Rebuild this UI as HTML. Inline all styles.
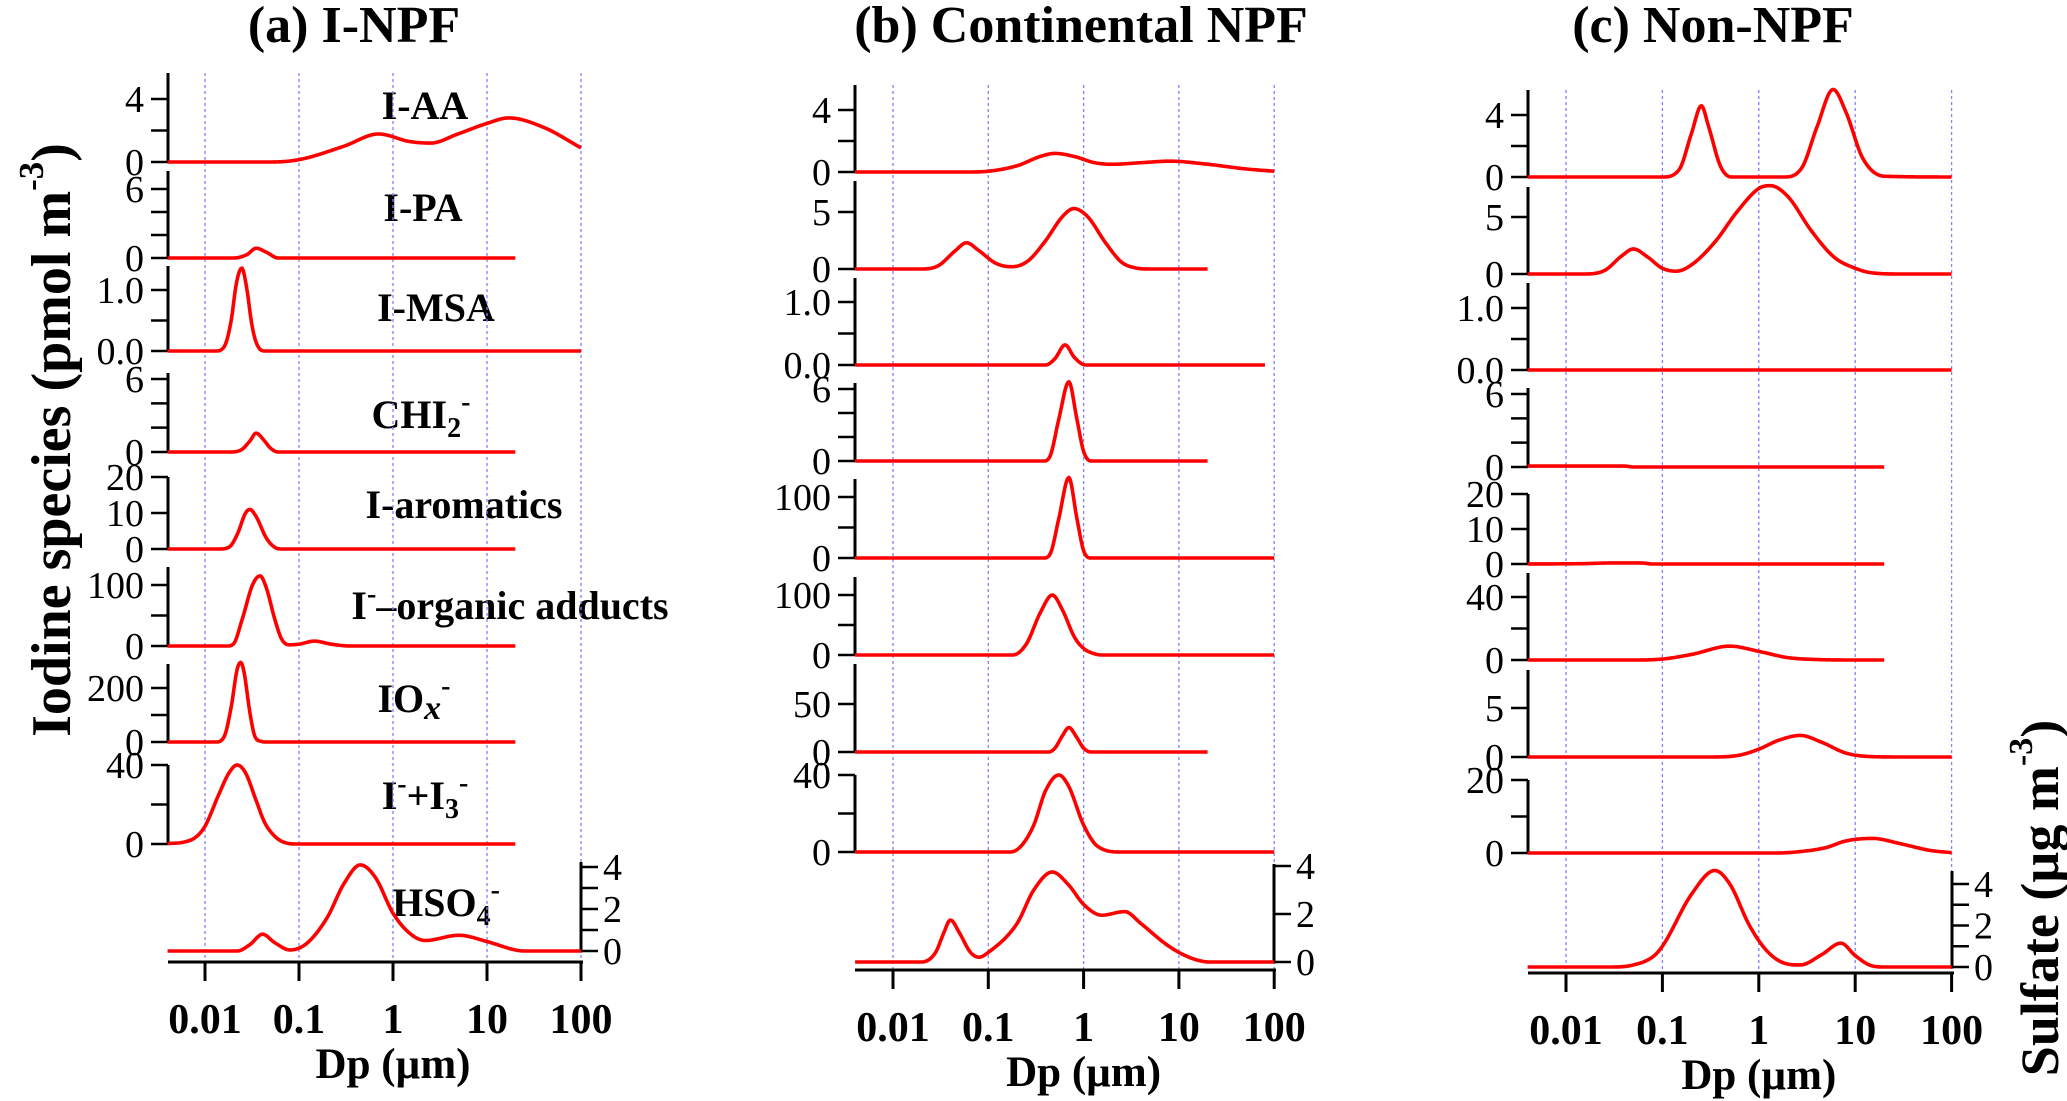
<!DOCTYPE html>
<html><head><meta charset="utf-8"><style>
html,body{margin:0;padding:0;background:#fff;}
svg{display:block;}
</style></head><body>
<svg id="chart" width="2067" height="1101" viewBox="0 0 2067 1101" xmlns="http://www.w3.org/2000/svg" font-family="'Liberation Serif', serif">
<g id="static">
<text x="354" y="42" font-size="52" font-weight="bold" text-anchor="middle">(a) I-NPF</text>
<text x="1081" y="42" font-size="52" font-weight="bold" text-anchor="middle">(b) Continental NPF</text>
<text x="1713" y="42" font-size="52" font-weight="bold" text-anchor="middle">(c) Non-NPF</text>
<text transform="translate(70,440) rotate(-90)" font-size="56" font-weight="bold" text-anchor="middle">Iodine species (pmol m<tspan font-size="35" dy="-27">-3</tspan><tspan dy="27">)</tspan></text>
<text transform="translate(2058,898) rotate(-90)" font-size="54" font-weight="bold" text-anchor="middle">Sulfate (µg m<tspan font-size="34" dy="-26">-3</tspan><tspan dy="26">)</tspan></text>
<g font-size="40" font-weight="bold" text-anchor="middle">
<text x="425" y="119">I-AA</text>
<text x="423" y="221">I-PA</text>
<text x="436" y="321">I-MSA</text>
<text x="421" y="428">CHI<tspan font-size="28" dy="9">2</tspan><tspan font-size="28" dy="-26">-</tspan></text>
<text x="464" y="518">I-aromatics</text>
<text x="510" y="619">I<tspan font-size="28" dy="-16">-</tspan><tspan dy="16">–organic adducts</tspan></text>
<text x="414" y="712">IO<tspan font-style="italic" font-size="34" dy="7">x</tspan><tspan font-size="28" dy="-24">-</tspan></text>
<text x="425" y="809">I<tspan font-size="28" dy="-16">-</tspan><tspan dy="16">+I</tspan><tspan font-size="28" dy="9">3</tspan><tspan font-size="28" dy="-26">-</tspan></text>
<text x="446" y="916">HSO<tspan font-size="28" dy="9">4</tspan><tspan font-size="28" dy="-26">-</tspan></text>
</g>
</g>
<g id="plots"></g>
</svg>
<script>
// ---------- data: [Dp (µm), value] pairs ----------
const aIAA = [[0.004,0],[0.05,0],[0.1,0.15],[0.3,1.0],[0.7,1.78],[1.5,1.3],[2.5,1.2],[5,1.8],[10,2.45],[17,2.8],[40,2.2],[100,0.9]];
const aIPA = [[0.004,0],[0.02,0],[0.028,0.3],[0.035,0.85],[0.045,0.5],[0.06,0],[20,0]];
const aIMSA = [[0.004,0],[0.013,0],[0.016,0.07],[0.019,0.5],[0.0215,1.1],[0.0246,1.36],[0.028,1.0],[0.031,0.5],[0.034,0.2],[0.04,0.01],[0.045,0],[100,0]];
const aCHI2 = [[0.004,0],[0.018,0],[0.024,0.15],[0.03,0.9],[0.035,1.55],[0.042,1.0],[0.05,0.3],[0.06,0],[20,0]];
const aIarom = [[0.004,0],[0.014,0],[0.018,0.5],[0.022,4],[0.027,10],[0.030,11],[0.035,9],[0.045,3],[0.055,0.5],[0.065,0],[20,0]];
const aIorg = [[0.004,0],[0.017,0],[0.02,3],[0.025,45],[0.032,100],[0.0385,115],[0.045,95],[0.055,45],[0.065,12],[0.078,2],[0.1,3],[0.145,8],[0.22,3],[0.35,0],[20,0]];
const aIOx = [[0.004,0],[0.013,0],[0.016,20],[0.019,130],[0.022,270],[0.024,295],[0.026,260],[0.03,110],[0.034,20],[0.04,2],[0.045,0],[20,0]];
const aII3 = [[0.004,0.2],[0.006,1],[0.008,3.5],[0.01,9],[0.014,25],[0.018,36],[0.022,40],[0.027,36],[0.035,22],[0.043,11],[0.055,4],[0.07,0.8],[0.1,0],[20,0]];
const aHSO4 = [[0.004,0],[0.022,0],[0.03,0.3],[0.041,0.8],[0.055,0.4],[0.08,0.05],[0.12,0.35],[0.2,1.6],[0.3,3.2],[0.45,4.1],[0.65,3.5],[1,1.8],[1.5,0.85],[2.2,0.5],[5,0.75],[10,0.45],[20,0.05],[25,0],[100,0]];

const bIAA = [[0.004,0],[0.06,0],[0.1,0.05],[0.2,0.4],[0.35,1.0],[0.5,1.2],[0.8,1.0],[1.3,0.6],[2,0.5],[4,0.6],[8,0.7],[20,0.5],[50,0.2],[100,0.05]];
const bIPA = [[0.004,0],[0.02,0],[0.03,0.3],[0.045,1.6],[0.059,2.3],[0.08,1.6],[0.12,0.5],[0.176,0.2],[0.26,0.7],[0.4,2.5],[0.6,4.6],[0.79,5.3],[1.1,4.6],[1.7,2.3],[2.5,0.6],[3.5,0.1],[5,0],[20,0]];
const bIMSA = [[0.004,0],[0.4,0],[0.5,0.1],[0.64,0.32],[0.8,0.12],[1.05,0],[80,0]];
const bCHI2 = [[0.004,0],[0.38,0],[0.45,0.5],[0.55,3.5],[0.7,6.6],[0.85,3.5],[1.0,0.8],[1.2,0],[20,0]];
const bIarom = [[0.004,0],[0.38,0],[0.45,8],[0.55,65],[0.7,132],[0.85,65],[1.0,12],[1.2,0],[100,0]];
const bIorg = [[0.004,0],[0.18,0],[0.25,18],[0.35,70],[0.47,100],[0.6,75],[0.8,30],[1,11],[1.3,2],[1.6,0],[100,0]];
const bIOx = [[0.004,0],[0.43,0],[0.5,4],[0.6,17],[0.7,25.5],[0.85,15],[1.0,4],[1.2,0],[20,0]];
const bII3 = [[0.004,0],[0.17,0],[0.22,3],[0.3,14],[0.4,32],[0.55,40],[0.7,34],[1.0,14],[1.4,3],[2.5,0],[100,0]];
const bHSO4 = [[0.004,0],[0.02,0],[0.028,0.4],[0.034,1.2],[0.040,1.75],[0.05,1.2],[0.065,0.4],[0.08,0.2],[0.1,0.4],[0.2,1.6],[0.3,3.0],[0.47,3.75],[0.7,3.2],[1.0,2.4],[1.55,1.95],[2.7,2.1],[4,1.6],[7,0.8],[10,0.4],[15,0.1],[21,0],[100,0]];

const cIAA = [[0.004,0],[0.1,0],[0.15,0.5],[0.2,2.8],[0.254,4.6],[0.3,3.3],[0.4,0.7],[0.52,0],[1.8,0],[2.8,0.6],[4,3.2],[5.9,5.65],[8,4.2],[12,1.2],[20,0.05],[100,0]];
const cIPA = [[0.004,0],[0.015,0],[0.025,0.3],[0.038,1.6],[0.05,2.2],[0.07,1.5],[0.1,0.5],[0.14,0.25],[0.2,0.8],[0.35,2.8],[0.6,5.5],[1.0,7.5],[1.32,7.75],[2,6.8],[3.5,3.8],[6,1.5],[10,0.5],[15,0.1],[30,0],[100,0]];
const cIMSA = [[0.004,0],[100,0]];
const cCHI2 = [[0.004,0.08],[0.04,0.08],[0.05,0],[20,0]];
const cIarom = [[0.004,0],[0.015,0.1],[0.03,0.3],[0.06,0.3],[0.08,0],[20,0]];
const cIorg = [[0.004,0],[0.05,0],[0.1,0.6],[0.2,3.5],[0.5,8.8],[1,5.5],[2,1.5],[4,0.3],[10,0],[20,0]];
const cIOx = [[0.004,0],[0.3,0],[0.6,0.15],[1,0.8],[1.6,1.7],[2.7,2.2],[4.5,1.5],[8,0.4],[14,0.05],[30,0],[100,0]];
const cII3 = [[0.004,0],[1.5,0],[2.5,0.3],[5,1.5],[8,3.3],[15,4],[30,2.5],[60,0.7],[100,0.1]];
const cHSO4 = [[0.004,0],[0.03,0],[0.05,0.1],[0.08,0.5],[0.1,1.0],[0.2,3.5],[0.35,4.65],[0.5,4.0],[0.8,2.0],[1.2,0.8],[1.8,0.2],[2.7,0.1],[4.5,0.6],[7.1,1.15],[10,0.55],[14,0.1],[20,0],[100,0]];

const xTickValues = [0.01, 0.1, 1, 10, 100];
const xTickLabels = ["0.01", "0.1", "1", "10", "100"];
const seriesNames = ["i-aa","i-pa","i-msa","chi2","i-aromatics","i-organic-adducts","iox","i-i3","hso4"];

// ---------- layout ----------
const NS = "http://www.w3.org/2000/svg";
const panels = [
 {id:"a", x0:168, xdec0:205, dec:94, xr:581, axisY:962, gridMax:2, series:[aIAA,aIPA,aIMSA,aCHI2,aIarom,aIorg,aIOx,aII3,aHSO4],
  subs:[
   {zero:162, refV:4, refY:99, top:73, ticks:[0,2,4], labels:{"0":"0","4":"4"}},
   {zero:258, refV:6, refY:189, top:171, ticks:[0,2,4,6], labels:{"0":"0","6":"6"}},
   {zero:351, refV:1, refY:290, top:266, ticks:[0,0.5,1], labels:{"0":"0.0","1":"1.0"}},
   {zero:452, refV:6, refY:379, top:373, ticks:[0,2,4,6], labels:{"0":"0","6":"6"}},
   {zero:549, refV:20, refY:477, top:477, ticks:[0,10,20], labels:{"0":"0","10":"10","20":"20"}},
   {zero:646, refV:100, refY:585, top:567, ticks:[0,50,100], labels:{"0":"0","100":"100"}},
   {zero:742, refV:200, refY:688, top:664, ticks:[0,100,200], labels:{"0":"0","200":"200"}},
   {zero:844, refV:40, refY:765, top:765, ticks:[0,20,40], labels:{"0":"0","40":"40"}},
   {zero:951, refV:4, refY:867, top:862, ticks:[0,1,2,3,4], labels:{"0":"0","2":"2","4":"4"}, right:true}
  ]},
 {id:"b", x0:855, xdec0:893, dec:95.3, xr:1274, axisY:970, gridMax:2, series:[bIAA,bIPA,bIMSA,bCHI2,bIarom,bIorg,bIOx,bII3,bHSO4],
  subs:[
   {zero:172, refV:4, refY:110, top:85, ticks:[0,2,4], labels:{"0":"0","4":"4"}},
   {zero:269, refV:5, refY:212, top:181, ticks:[0,5], labels:{"0":"0","5":"5"}},
   {zero:365, refV:1, refY:302, top:278, ticks:[0,0.5,1], labels:{"0":"0.0","1":"1.0"}},
   {zero:461, refV:6, refY:389, top:383, ticks:[0,2,4,6], labels:{"0":"0","6":"6"}},
   {zero:558, refV:100, refY:497, top:479, ticks:[0,50,100], labels:{"0":"0","100":"100"}},
   {zero:655, refV:100, refY:595, top:577, ticks:[0,50,100], labels:{"0":"0","100":"100"}},
   {zero:752, refV:50, refY:704, top:664, ticks:[0,50], labels:{"0":"0","50":"50"}},
   {zero:852, refV:40, refY:775, top:775, ticks:[0,20,40], labels:{"0":"0","40":"40"}},
   {zero:962, refV:4, refY:866, top:864, ticks:[0,2,4], labels:{"0":"0","2":"2","4":"4"}, right:true}
  ]},
 {id:"c", x0:1528, xdec0:1566, dec:96.4, xr:1952, axisY:973, gridMax:2, series:[cIAA,cIPA,cIMSA,cCHI2,cIarom,cIorg,cIOx,cII3,cHSO4],
  subs:[
   {zero:177, refV:4, refY:115, top:90, ticks:[0,2,4], labels:{"0":"0","4":"4"}},
   {zero:274, refV:5, refY:217, top:187, ticks:[0,5], labels:{"0":"0","5":"5"}},
   {zero:370, refV:1, refY:308, top:283, ticks:[0,0.5,1], labels:{"0":"0.0","1":"1.0"}},
   {zero:467, refV:6, refY:394, top:388, ticks:[0,2,4,6], labels:{"0":"0","6":"6"}},
   {zero:564, refV:20, refY:494, top:494, ticks:[0,10,20], labels:{"0":"0","10":"10","20":"20"}},
   {zero:660, refV:40, refY:597, top:573, ticks:[0,20,40], labels:{"0":"0","40":"40"}},
   {zero:757, refV:5, refY:708, top:670, ticks:[0,5], labels:{"0":"0","5":"5"}},
   {zero:853, refV:20, refY:780, top:780, ticks:[0,10,20], labels:{"0":"0","20":"20"}},
   {zero:967, refV:4, refY:884, top:871, ticks:[0,1,2,3,4], labels:{"0":"0","2":"2","4":"4"}, right:true}
  ]}
];

function mk(tag, attrs, parent){
  const e = document.createElementNS(NS, tag);
  for (const k in attrs) e.setAttribute(k, attrs[k]);
  parent.appendChild(e);
  return e;
}
function monotone(xs, ys){
  const n = xs.length, d = [], m = new Array(n);
  for (let i=0;i<n-1;i++) d.push((ys[i+1]-ys[i])/(xs[i+1]-xs[i]));
  m[0]=d[0]; m[n-1]=d[n-2];
  for (let i=1;i<n-1;i++) m[i] = (d[i-1]*d[i]<=0)?0:(d[i-1]+d[i])/2;
  for (let i=0;i<n-1;i++){
    if (d[i]===0){m[i]=0;m[i+1]=0;continue;}
    const a=m[i]/d[i], b=m[i+1]/d[i], s=a*a+b*b;
    if (s>9){const t=3/Math.sqrt(s); m[i]=t*a*d[i]; m[i+1]=t*b*d[i];}
  }
  return function(x){
    let i=0; while(i<n-2 && x>xs[i+1]) i++;
    const h=xs[i+1]-xs[i], t=(x-xs[i])/h, t2=t*t, t3=t2*t;
    return (2*t3-3*t2+1)*ys[i]+(t3-2*t2+t)*h*m[i]+(-2*t3+3*t2)*ys[i+1]+(t3-t2)*h*m[i+1];
  };
}

const root = document.getElementById("plots");
panels.forEach(function(p){
  const g = mk("g", {}, root);
  
  
  const xs = function(dp){ return p.xdec0 + (Math.log10(dp)+2)*p.dec; };
  const gridTop = p.subs[0].top;
  for (let k=-2; k<=p.gridMax; k++){
    const gx = xs(Math.pow(10,k));
    const gl = mk("line", {x1:gx, x2:gx, y1:gridTop, y2:p.axisY, stroke:"#8080ff", "stroke-width":1.3, "stroke-dasharray":"3,3"}, g);
    
    
  }
  const xa = mk("line", {x1:p.x0, x2:p.xr+2, y1:p.axisY, y2:p.axisY, stroke:"#000", "stroke-width":3}, g);
  
  
  xTickValues.forEach(function(v, i){
    const tx = xs(v);
    const tl = mk("line", {x1:tx, x2:tx, y1:p.axisY, y2:p.axisY+19, stroke:"#000", "stroke-width":3}, g);
    
    
    const tt = mk("text", {x:tx, y:p.axisY+71, "font-size":42, "font-weight":"bold", "text-anchor":"middle"}, g);
    tt.textContent = xTickLabels[i];
    
    
  });
  const xt = mk("text", {x:xs(1), y:p.axisY+116, "font-size":43, "font-weight":"bold", "text-anchor":"middle"}, g);
  xt.textContent = "Dp (µm)";
  
  

  p.subs.forEach(function(s, si){
    const data = p.series[si];
    const ppu = (s.zero - s.refY)/s.refV;
    const ys = function(v){ return s.zero - v*ppu; };
    const ax = s.right ? p.xr : p.x0;
    const al = mk("line", {x1:ax, x2:ax, y1:s.top, y2:s.zero+(s.right?1.5:0), stroke:"#000", "stroke-width":3}, g);
    
    
    s.ticks.forEach(function(tv){
      const ty = ys(tv);
      const lab = s.labels[String(tv)];
      const tl = mk("line", {x1:ax, x2:s.right? ax+17 : ax-17, y1:ty, y2:ty, stroke:"#000", "stroke-width":2.5}, g);
      
      
      if (lab !== undefined){
        const t = mk("text", {x:s.right? ax+22 : ax-24, y:ty+13, "font-size":38, "text-anchor":s.right?"start":"end"}, g);
        t.textContent = lab;
        
        
      }
    });
    const lx = data.map(function(d){return Math.log10(d[0]);});
    const lv = data.map(function(d){return d[1];});
    const f = monotone(lx, lv);
    const x0l = lx[0], x1l = lx[lx.length-1];
    let dstr = "";
    const N = 300;
    for (let i=0;i<=N;i++){
      const L = x0l + (x1l-x0l)*i/N;
      const v = f(L);
      dstr += (i?"L":"M") + xs(Math.pow(10,L)).toFixed(2) + "," + ys(v).toFixed(2);
    }
    const path = mk("path", {d:dstr, fill:"none", stroke:"#ff0000", "stroke-width":3.6, "stroke-linejoin":"round"}, g);
    
    
  });
});
</script>
</body></html>
